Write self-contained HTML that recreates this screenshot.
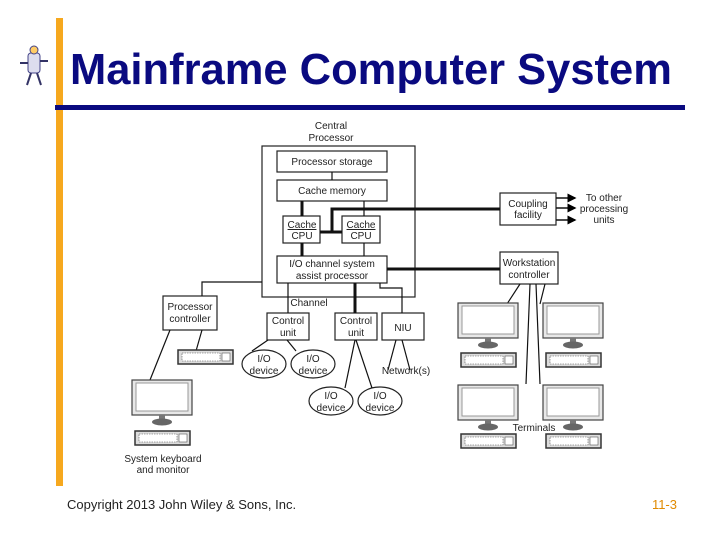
<!DOCTYPE html>
<html><head><style>
body{margin:0;width:720px;height:540px;background:#fff;overflow:hidden;position:relative;font-family:"Liberation Sans",sans-serif}
</style></head><body>
<svg width="720" height="540" style="position:absolute;left:0;top:0" font-family="Liberation Sans, sans-serif">
<defs>
<marker id="ar" markerWidth="6" markerHeight="6" refX="5" refY="3" orient="auto"><path d="M0,0L6,3L0,6z" fill="#000"/></marker>
<g id="mon"><rect x="0" y="0" width="60" height="35" fill="#e8e8e8" stroke="#444" stroke-width="1.2"/><rect x="4" y="3" width="52" height="28" fill="#fff" stroke="#999"/><path d="M27,35h6v4h-6z" fill="#777"/><ellipse cx="30" cy="42" rx="10" ry="3.5" fill="#666"/></g>
<g id="kb"><rect x="0" y="0" width="55" height="14" fill="#ddd" stroke="#333" stroke-width="1.5"/><rect x="4" y="3" width="38" height="8" fill="#fff" stroke="#555" stroke-width="0.6" stroke-dasharray="1.5,1"/><rect x="44" y="3" width="8" height="8" fill="#fff" stroke="#555" stroke-width="0.6"/></g>
</defs>
<rect x="56" y="18" width="7" height="468" fill="#f6a81e"/>
<rect x="55" y="105" width="630" height="5" fill="#0a0a80"/>
<text x="70" y="84" font-size="43.5" font-weight="bold" fill="#0a0a80">Mainframe Computer System</text>
<g transform="translate(16,45)"><rect x="12" y="8" width="12" height="20" rx="3" fill="#dde" stroke="#448" /><circle cx="18" cy="5" r="4" fill="#fc6" stroke="#448"/><path d="M12,18h-8M24,16h8M15,28l-4,12M21,28l4,12" stroke="#336" stroke-width="2" fill="none"/></g>
<g font-size="10" fill="#222" text-anchor="middle" stroke="none">
<text x="331" y="129">Central</text><text x="331" y="141">Processor</text>
</g>
<g fill="#fff" stroke="#222" stroke-width="1.2">
<rect x="262" y="146" width="153" height="151"/>
<rect x="277" y="151" width="110" height="21"/>
<rect x="277" y="180" width="110" height="21"/>
<rect x="283" y="216" width="37" height="27"/>
<rect x="342" y="216" width="38" height="27"/>
<rect x="277" y="256" width="110" height="27"/>
<rect x="500" y="193" width="56" height="32"/>
<rect x="500" y="252" width="58" height="32"/>
<rect x="163" y="296" width="54" height="34"/>
<rect x="267" y="313" width="42" height="27"/>
<rect x="335" y="313" width="42" height="27"/>
<rect x="382" y="313" width="42" height="27"/>
<ellipse cx="264" cy="364" rx="22" ry="14"/>
<ellipse cx="313" cy="364" rx="22" ry="14"/>
<ellipse cx="331" cy="401" rx="22" ry="14"/>
<ellipse cx="380" cy="401" rx="22" ry="14"/>
</g>
<g stroke="#111" fill="none">
<path d="M332,172v8M364,201v15M364,243v13M202,296v-14h60M288,283v30M380,283v5h22v25M252,351l16,-11M296,351l-9,-11M345,388l10,-48M372,388l-16,-48M396,340l-8,30M402,340l8,30M202,330l-8,28M170,330l-20,50M545,284l-5,20M530,284l-4,100M536,284l4,100M520,284l-13,20" stroke-width="1.2"/>
<path d="M302,201v15M302,243v13M355,283v30M320,232h22M332,232v-23h168M387,269h113" stroke-width="3"/>
<path d="M556,198h19" stroke-width="1.5" marker-end="url(#ar)"/>
<path d="M556,208h19" stroke-width="1.5" marker-end="url(#ar)"/>
<path d="M556,220h19" stroke-width="1.5" marker-end="url(#ar)"/>
</g>
<g font-size="10" fill="#222" text-anchor="middle">
<text x="332" y="165">Processor storage</text>
<text x="332" y="194">Cache memory</text>
<text x="302" y="228" text-decoration="underline">Cache</text><text x="302" y="239">CPU</text>
<text x="361" y="228" text-decoration="underline">Cache</text><text x="361" y="239">CPU</text>
<text x="332" y="267">I/O channel system</text><text x="332" y="279">assist processor</text>
<text x="528" y="207">Coupling</text><text x="528" y="218">facility</text>
<text x="604" y="201">To other</text><text x="604" y="212">processing</text><text x="604" y="223">units</text>
<text x="529" y="266">Workstation</text><text x="529" y="278">controller</text>
<text x="190" y="310">Processor</text><text x="190" y="322">controller</text>
<text x="309" y="306">Channel</text>
<text x="288" y="324">Control</text><text x="288" y="336">unit</text>
<text x="356" y="324">Control</text><text x="356" y="336">unit</text>
<text x="403" y="331">NIU</text>
<text x="264" y="362">I/O</text><text x="264" y="374">device</text>
<text x="313" y="362">I/O</text><text x="313" y="374">device</text>
<text x="331" y="399">I/O</text><text x="331" y="411">device</text>
<text x="380" y="399">I/O</text><text x="380" y="411">device</text>
<text x="406" y="374">Network(s)</text>
<text x="534" y="431">Terminals</text>
<text x="163" y="462">System keyboard</text><text x="163" y="473">and monitor</text>
</g>
<use href="#mon" x="132" y="380"/><use href="#kb" x="135" y="431"/>
<use href="#kb" x="178" y="350"/>
<use href="#mon" x="458" y="303"/><use href="#kb" x="461" y="353"/>
<use href="#mon" x="543" y="303"/><use href="#kb" x="546" y="353"/>
<use href="#mon" x="458" y="385"/><use href="#kb" x="461" y="434"/>
<use href="#mon" x="543" y="385"/><use href="#kb" x="546" y="434"/>
<text x="67" y="509" font-size="13" fill="#222">Copyright 2013 John Wiley &amp; Sons, Inc.</text>
<text x="677" y="509" font-size="13" fill="#e08a00" text-anchor="end">11-3</text>
</svg>
</body></html>
